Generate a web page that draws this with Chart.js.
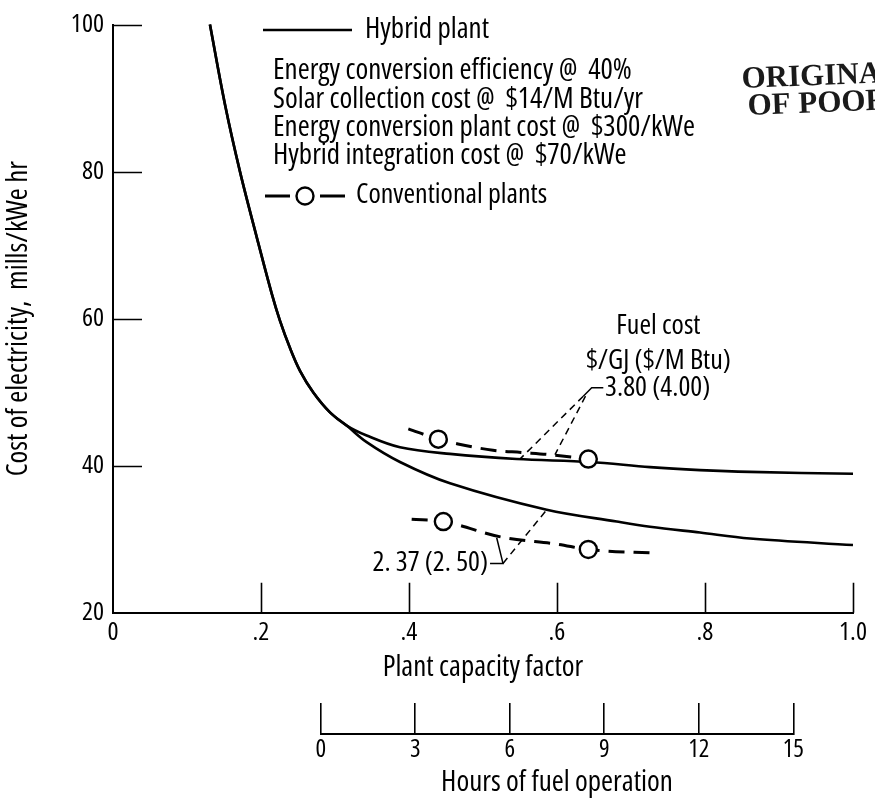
<!DOCTYPE html>
<html>
<head>
<meta charset="utf-8">
<script src="https://cdn.jsdelivr.net/npm/chart.js@4.4.1/dist/chart.umd.min.js"></script>
<style>
  html, body { margin: 0; padding: 0; background: #fff; }
  #wrap { position: relative; width: 875px; height: 800px; background: #fff; }
  #wrap canvas { position: absolute; left: 0; top: 0; }
</style>
</head>
<body>
<div id="wrap">
  <canvas id="main" width="875" height="800"></canvas>
  <canvas id="hours" width="875" height="800"></canvas>
</div>
<script>
// ---- Cost of electricity (mills/kWe hr) versus plant capacity factor ----

// Hybrid plant, fuel at 3.80 $/GJ
const hybridHighX = [0.131, 0.1514, 0.1716, 0.1942, 0.2145, 0.2257, 0.2392, 0.2527, 0.2707, 0.2932, 0.3158,
                     0.3428, 0.3878, 0.4554, 0.5455, 0.6446, 0.7257, 0.7932, 0.8608, 1.0];
const hybridHighY = [100, 89.1, 80.0, 71.1, 63.4, 59.7, 56.0, 52.9, 49.95, 47.25, 45.45,
                     44.1, 42.5, 41.6, 40.9, 40.5, 39.8, 39.4, 39.15, 38.9];

// Hybrid plant, fuel at 2.37 $/GJ
const hybridLowX = [0.131, 0.1514, 0.1716, 0.1942, 0.2145, 0.2257, 0.2392, 0.2527, 0.2707, 0.2932, 0.3158,
                    0.3428, 0.3878, 0.4554, 0.5861, 0.6807, 0.7257, 0.7932, 0.8608, 1.0];
const hybridLowY = [100, 89.1, 80.0, 71.1, 63.4, 59.7, 56.0, 52.9, 49.95, 47.25, 45.45,
                    43.2, 40.5, 37.6, 34.0, 32.4, 31.7, 30.9, 30.1, 29.2];

// Conventional plants (dashed), fuel at 3.80 and 2.37 $/GJ
const convHighX = [0.3991, 0.4396, 0.4662, 0.5135, 0.5514, 0.5905, 0.6423];
const convHighY = [45.0, 43.6, 42.95, 42.1, 41.8, 41.5, 40.9];
const convLowX  = [0.4036, 0.4464, 0.5243, 0.6014, 0.6423, 0.7347];
const convLowY  = [32.7, 32.4, 30.3, 29.3, 28.6, 28.1];

// Circled conventional plant points
const convPointX = [0.4396, 0.6423, 0.4464, 0.6423];
const convPointY = [43.6, 40.9, 32.4, 28.6];

// Tick labels
const xTickLabels = ['0', '.2', '.4', '.6', '.8', '1.0'];
const yTickLabels = ['20', '40', '60', '80', '100'];
const hourTickLabels = ['0', '3', '6', '9', '12', '15'];

// Fuel cost callouts: text anchors and leader lines, in axis units
const fuelHeadX = 0.737;
const fuelHeadY = [59.0, 54.3];
const fuelHeadText = ['Fuel cost', '$/GJ ($/M Btu)'];
const highLabelAt = [0.665, 50.5];
const highLabelText = '3.80 (4.00)';
const lowLabelAt = [0.5068, 26.8];
const lowLabelText = '2. 37 (2. 50)';
const highLeaderSolid = [[0.6626, 50.6], [0.6469, 50.6], [0.6355, 49.45]];
const highLeaderDashed = [[[0.6355, 49.45], [0.55, 40.9]], [[0.6385, 49.45], [0.5973, 41.5]]];
const lowLeaderSolid = [[0.5095, 26.7], [0.527, 26.7], [0.5185, 30.2]];
const lowLeaderDashed = [[[0.527, 26.7], [0.5861, 34.0]]];

const FAMILY = "'Open Sans', 'Roboto Condensed', sans-serif";
const STRETCH = 'condensed';
const textFont = size => `${STRETCH} ${size}px ${FAMILY}`;
const axisFont = size => ({ family: FAMILY, size: size, weight: STRETCH, lineHeight: 1.2 });
const SERIF = "'Liberation Serif', 'DejaVu Serif', serif";

const pts = (xs, ys) => xs.map((x, i) => ({ x: x, y: ys[i] }));

const solidCurve = (xs, ys) => ({
  data: pts(xs, ys), showLine: true, borderColor: '#000', borderWidth: 2.6,
  pointRadius: 0, fill: false, tension: 0.35, order: 2, clip: false
});
const dashedCurve = (xs, ys) => ({
  data: pts(xs, ys), showLine: true, borderColor: '#000', borderWidth: 3,
  borderDash: [16, 9], pointRadius: 0, fill: false, cubicInterpolationMode: 'monotone', order: 2, clip: false
});

// inward tick marks on both main axes
const innerTicks = {
  id: 'innerTicks',
  afterDatasetsDraw(chart) {
    const { ctx, chartArea: a } = chart;
    const xs = chart.scales.x, ys = chart.scales.y;
    ctx.save();
    ctx.strokeStyle = '#000';
    ctx.lineWidth = 1.6;
    ctx.beginPath();
    xs.ticks.forEach(t => {
      if (t.value <= xs.min) return;
      const px = Math.round(xs.getPixelForValue(t.value)) + 0.5;
      ctx.moveTo(px, a.bottom);
      ctx.lineTo(px, a.bottom - 30);
    });
    ys.ticks.forEach(t => {
      if (t.value <= ys.min) return;
      const py = Math.round(ys.getPixelForValue(t.value)) + 0.5;
      ctx.moveTo(a.left, py);
      ctx.lineTo(a.left + 29, py);
    });
    ctx.stroke();
    ctx.restore();
  }
};

// fuel cost callouts with their leader lines
const callouts = {
  id: 'callouts',
  afterDatasetsDraw(chart) {
    const { ctx } = chart;
    const xs = chart.scales.x, ys = chart.scales.y;
    const P = p => [xs.getPixelForValue(p[0]), ys.getPixelForValue(p[1])];
    ctx.save();
    ctx.strokeStyle = '#000';
    ctx.fillStyle = '#000';
    ctx.lineWidth = 1.5;
    const poly = (list) => {
      ctx.beginPath();
      list.forEach((p, i) => { const q = P(p); i ? ctx.lineTo(q[0], q[1]) : ctx.moveTo(q[0], q[1]); });
      ctx.stroke();
    };
    ctx.setLineDash([]);
    poly(highLeaderSolid);
    poly(lowLeaderSolid);
    ctx.setLineDash([7, 5]);
    highLeaderDashed.forEach(poly);
    lowLeaderDashed.forEach(poly);
    ctx.setLineDash([]);

    ctx.font = textFont(28);
    ctx.textBaseline = 'middle';
    ctx.textAlign = 'center';
    fuelHeadText.forEach((t, i) => {
      const q = P([fuelHeadX, fuelHeadY[i]]);
      ctx.fillText(t, q[0], q[1]);
    });
    ctx.textAlign = 'left';
    let q = P(highLabelAt);
    ctx.fillText(highLabelText, q[0], q[1]);
    ctx.textAlign = 'right';
    q = P(lowLabelAt);
    ctx.fillText(lowLabelText, q[0], q[1]);
    ctx.restore();
  }
};

// key block in the upper part of the plot, plus the archive stamp
const keyBlock = {
  id: 'keyBlock',
  afterDraw(chart) {
    const { ctx } = chart;
    ctx.save();
    ctx.strokeStyle = '#000';
    ctx.fillStyle = '#000';
    ctx.lineCap = 'butt';

    ctx.lineWidth = 2.6;
    ctx.beginPath(); ctx.moveTo(263, 30); ctx.lineTo(352, 30); ctx.stroke();

    ctx.font = textFont(29);
    ctx.textBaseline = 'middle';
    ctx.textAlign = 'left';
    ctx.fillText('Hybrid plant', 365, 30);
    const notes = [
      'Energy conversion efficiency @  40%',
      'Solar collection cost @  $14/M Btu/yr',
      'Energy conversion plant cost @  $300/kWe',
      'Hybrid integration cost @  $70/kWe'
    ];
    [71, 100, 128, 156].forEach((y, i) => ctx.fillText(notes[i], 273, y));

    ctx.lineWidth = 3;
    ctx.beginPath();
    ctx.moveTo(265, 196); ctx.lineTo(290, 196);
    ctx.moveTo(320, 196); ctx.lineTo(345, 196);
    ctx.stroke();
    ctx.lineWidth = 2.4;
    ctx.beginPath(); ctx.arc(305, 196, 8.5, 0, Math.PI * 2);
    ctx.fillStyle = '#fff'; ctx.fill();
    ctx.stroke();
    ctx.fillStyle = '#000';
    ctx.font = textFont(28);
    ctx.fillText('Conventional plants', 356, 195);

    ctx.fillStyle = '#1a1a1a';
    ctx.font = `bold 31px ${SERIF}`;
    ctx.textBaseline = 'alphabetic';
    ctx.save();
    ctx.translate(742, 88); ctx.rotate(-0.04);
    ctx.fillText('ORIGINAL PAGE IS', 0, 0);
    ctx.restore();
    ctx.save();
    ctx.translate(748, 115); ctx.rotate(-0.04);
    ctx.fillText('OF POOR QUALITY', 0, 0);
    ctx.restore();
    ctx.restore();
  }
};

new Chart(document.getElementById('main'), {
  type: 'scatter',
  data: {
    datasets: [
      {
        data: pts(convPointX, convPointY), showLine: false, pointRadius: 8.5,
        pointBackgroundColor: '#fff', pointBorderColor: '#000', pointBorderWidth: 2.4,
        order: 0, clip: false
      },
      solidCurve(hybridHighX, hybridHighY),
      solidCurve(hybridLowX, hybridLowY),
      dashedCurve(convHighX, convHighY),
      dashedCurve(convLowX, convLowY)
    ]
  },
  options: {
    responsive: false,
    animation: false,
    devicePixelRatio: 1,
    events: [],
    layout: { padding: { top: 17, right: 22, left: 0, bottom: 0 } },
    plugins: { legend: { display: false }, tooltip: { enabled: false } },
    scales: {
      x: {
        type: 'linear', min: 0, max: 1,
        ticks: {
          stepSize: 0.2, autoSkip: false, maxRotation: 0, color: '#000', padding: 4,
          font: axisFont(26),
          callback: (v, i) => xTickLabels[i]
        },
        grid: { drawOnChartArea: false, drawTicks: false },
        border: { display: true, color: '#000', width: 2 },
        title: {
          display: true, text: 'Plant capacity factor', color: '#000',
          font: axisFont(29),
          padding: { top: 0, bottom: 115 }
        },
        afterFit: s => { s.height = 187.3; }
      },
      y: {
        type: 'linear', min: 20, max: 100,
        ticks: {
          stepSize: 20, color: '#000', padding: 9,
          font: axisFont(26),
          callback: (v, i) => yTickLabels[i]
        },
        grid: { drawOnChartArea: false, drawTicks: false },
        border: { display: true, color: '#000', width: 2 },
        title: {
          display: true, text: 'Cost of electricity,  mills/kWe hr', color: '#000',
          font: axisFont(29),
          padding: { top: 1, bottom: 0 }
        },
        afterFit: s => { s.width = 113; }
      }
    }
  },
  plugins: [innerTicks, callouts, keyBlock]
});

// Secondary scale: hours of fuel operation
new Chart(document.getElementById('hours'), {
  type: 'scatter',
  data: { datasets: [] },
  options: {
    responsive: false,
    animation: false,
    devicePixelRatio: 1,
    events: [],
    layout: { padding: { top: 703, left: 320.7, right: 81.7, bottom: 0 } },
    plugins: { legend: { display: false }, tooltip: { enabled: false } },
    scales: {
      x: {
        type: 'linear', min: 0, max: 15,
        ticks: {
          stepSize: 3, autoSkip: false, maxRotation: 0, color: '#000', padding: 1,
          font: axisFont(25),
          callback: (v, i) => hourTickLabels[i]
        },
        grid: { drawOnChartArea: true, drawTicks: false, color: '#000', lineWidth: 1.6 },
        border: { display: true, color: '#000', width: 2 },
        title: {
          display: true, text: 'Hours of fuel operation', color: '#000',
          font: axisFont(29),
          padding: { top: 0, bottom: 0 }
        },
        afterFit: s => { s.height = 66; }
      },
      y: { display: false, min: 0, max: 1 }
    }
  }
});
</script>
</body>
</html>
